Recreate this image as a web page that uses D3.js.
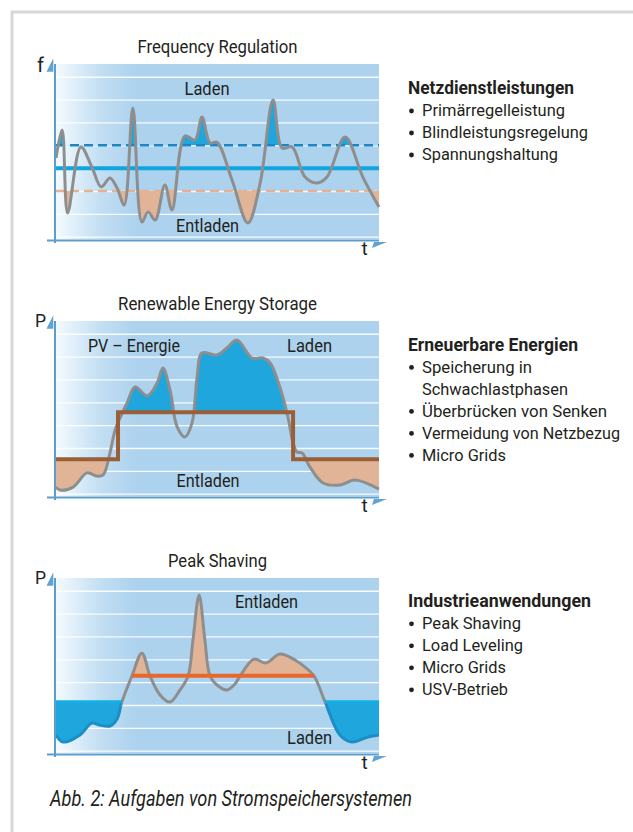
<!DOCTYPE html>
<html><head><meta charset="utf-8">
<script src="https://cdn.jsdelivr.net/npm/d3@7"></script>
<style>
body{margin:0;background:#fff;}
svg{display:block;}
text{font-family:Roboto,"Liberation Sans",sans-serif;fill:#231f20;}
</style>
</head><body><svg id="c" width="633" height="832"></svg>
<script>
// ---------------- DATA ----------------
const titles = ["Frequency Regulation", "Renewable Energy Storage", "Peak Shaving"];
const yAxisLabels = ["f", "P", "P"];
const xAxisLabel = "t";

// Panel 1: frequency regulation
const freqT = [0, 1.9, 3.6, 7.7, 11.1, 14.0, 16.7, 18.9, 21.1, 23.8, 26.6, 28.5, 30.7, 33.7, 35.9, 39.9, 43.0, 45.2, 47.7, 49.8, 54.5, 59.4, 63.2, 67.2, 70.0, 73.1, 77.1, 80.8, 83.9, 89.5, 95.0, 100];
const freqV = [3.44, 4.67, 1.04, 3.93, 3.05, 2.18, 2.57, 2.13, 1.39, 5.63, 0.64, 1.08, 0.73, 2.26, 1.17, 4.41, 4.23, 5.24, 4.10, 4.14, 2.48, 0.60, 2.34, 5.98, 3.88, 3.93, 2.61, 2.35, 2.61, 4.36, 2.61, 1.30];
const freqUpper = 4, freqCenter = 3, freqLower = 2;
const freqLabels = ["Laden", "Entladen"];

// Panel 2: renewable energy storage
const resT = [0, 1.2, 5.3, 9.6, 12.7, 14.6, 16.7, 18.3, 19.8, 22.0, 24.5, 28.2, 31.3, 33.1, 35.3, 37.5, 39.9, 42.1, 43.7, 45.2, 49.8, 52.9, 56.0, 60.7, 64.1, 66.3, 69.3, 71.8, 73.4, 74.6, 76.2, 78.6, 82.7, 87.9, 92.6, 100];
const resV = [0.29, 0.16, 0.29, 0.91, 0.77, 0.82, 1.78, 2.79, 3.31, 3.97, 4.67, 4.28, 4.84, 5.50, 4.54, 2.92, 2.48, 3.09, 5.11, 6.16, 6.07, 6.38, 6.73, 5.94, 5.94, 5.72, 4.67, 3.36, 2.22, 1.82, 1.78, 1.17, 0.47, 0.38, 0.60, 0.20];
const resStepT = [0, 19.2, 19.2, 73.4, 73.4, 100];
const resStepV = [1.51, 1.51, 3.56, 3.56, 1.51, 1.51];
const resLabels = ["PV – Energie", "Laden", "Entladen"];

// Panel 3: peak shaving
const peakT = [0, 2.2, 7.4, 11.1, 13.6, 16.7, 18.9, 20.4, 23.5, 26.6, 29.1, 32.2, 35.3, 38.4, 40.9, 42.4, 44.3, 46.1, 47.7, 50.2, 52.9, 55.4, 57.0, 61.3, 65.0, 69.3, 74.0, 77.1, 79.9, 83.3, 87.9, 91.6, 96.6, 100];
const peakV = [0.69, 0.38, 0.69, 1.21, 1.12, 1.08, 1.39, 2.13, 3.27, 4.27, 3.27, 2.44, 2.13, 2.66, 3.27, 4.84, 6.82, 4.84, 3.27, 2.83, 2.66, 2.92, 3.27, 4.01, 3.84, 4.23, 3.97, 3.66, 3.27, 2.13, 0.69, 0.38, 0.60, 0.69];
const peakLimit = 3.28, peakLimitT = [23.5, 79.9];
const chargeLevel = 2.14, chargeT = [20.4, 83.3];
const peakLabels = ["Entladen", "Laden"];

// Side texts
const headings = ["Netzdienstleistungen", "Erneuerbare Energien", "Industrieanwendungen"];
const items1 = ["Primärregelleistung", "Blindleistungsregelung", "Spannungshaltung"];
const items2 = [["Speicherung in", "Schwachlastphasen"], "Überbrücken von Senken", "Vermeidung von Netzbezug", "Micro Grids"];
const items3 = ["Peak Shaving", "Load Leveling", "Micro Grids", "USV-Betrieb"];
const caption = "Abb. 2: Aufgaben von Stromspeichersystemen";

// ---------------- DRAW ----------------
const svg = d3.select("#c");
const defs = svg.append("defs");
const grad = defs.append("linearGradient").attr("id", "bg").attr("x1", 0).attr("x2", 1).attr("y1", 0).attr("y2", 0);
[[0, "#f4fafe"], [0.075, "#d8ebf8"], [0.14, "#c2def3"], [0.25, "#acd2ee"], [1, "#acd2ee"]]
  .forEach(([o, c]) => grad.append("stop").attr("offset", o).attr("stop-color", c));

svg.append("path").attr("d", "M12,832V12H633").attr("fill", "none").attr("stroke", "#d7d7d7").attr("stroke-width", 3);

function fit(sel, w) {
  const n = sel.node().getComputedTextLength();
  if (n > 0 && Math.abs(n - w) / w < 0.25) sel.attr("textLength", w).attr("lengthAdjust", "spacingAndGlyphs");
  return sel;
}

const X0 = 56, X1 = 379;
const x = d3.scaleLinear().domain([0, 100]).range([X0, X1]);
const CURVE = d3.curveCatmullRom.alpha(0.5);
let clipId = 0;
function clipRect(g, x0, y0, x1, y1) {
  const id = "cl" + (clipId++);
  const cp = defs.append("clipPath").attr("id", id);
  [].concat(x0).forEach((xa, k) => {
    cp.append("rect").attr("x", xa).attr("y", y0).attr("width", [].concat(x1)[k] - xa).attr("height", y1 - y0);
  });
  return "url(#" + id + ")";
}

function frame(i, titleW) {
  const top = 64 + 257 * i;
  const y = d3.scaleLinear().domain([0, 7.5]).range([top + 172.7, top + 1.35]);
  const g = svg.append("g");
  g.append("rect").attr("x", X0).attr("y", top).attr("width", X1 - X0).attr("height", 175).attr("fill", "url(#bg)");
  const grid = g.append("g").attr("transform", `translate(${X0},0)`)
    .call(d3.axisLeft(y).tickValues(d3.range(0, 8)).tickSize(-(X1 - X0)).tickFormat(""));
  grid.select(".domain").remove();
  grid.selectAll("line").attr("stroke", "#ffffff").attr("stroke-width", 1.3).attr("stroke-opacity", 0.9);
  // axes
  const ax = svg.append("g").attr("class", "axes");
  ax.append("line").attr("x1", 47).attr("x2", X1).attr("y1", top + 176.5).attr("y2", top + 176.5).attr("stroke", "#5b9dcc").attr("stroke-width", 2);
  ax.append("line").attr("x1", 55).attr("x2", 55).attr("y1", top).attr("y2", top + 179).attr("stroke", "#5b9dcc").attr("stroke-width", 2);
  ax.append("path").attr("d", `M46.5,${top + 7.7}L53.3,${top + 7.7}L53.3,${top - 5.7}Z`).attr("fill", "#5ea3d3");
  ax.append("path").attr("d", `M372,${top + 184}L374,${top + 178}L387,${top + 178}Z`).attr("fill", "#5ea3d3");
  ax.append("text").attr("x", 40.5).attr("y", top + (i === 0 ? 8 : 6)).attr("text-anchor", "middle")
    .attr("font-size", i === 0 ? 20 : 17.5).text(yAxisLabels[i]);
  ax.append("text").attr("x", 364.5).attr("y", top + 191).attr("text-anchor", "middle").attr("font-size", 19).text(xAxisLabel);
  fit(svg.append("text").attr("x", 217.5).attr("y", top - 11).attr("text-anchor", "middle").attr("font-size", 18).text(titles[i]), titleW);
  return { g, y, top };
}

function plotText(g, s, cx, by, w) {
  fit(g.append("text").attr("x", cx).attr("y", by).attr("text-anchor", "middle").attr("font-size", 19).text(s), w);
}

// ---- Panel 1
{
  const { g, y, top } = frame(0, 160);
  const pts = freqT.map((t, k) => [t, freqV[k]]);
  const line = d3.line().x(d => x(d[0])).y(d => y(d[1])).curve(CURVE);
  const areaTo = lv => d3.area().x(d => x(d[0])).y0(y(lv)).y1(d => y(d[1])).curve(CURVE);
  g.append("path").attr("d", areaTo(freqUpper)(pts)).attr("fill", "#1fa6dc")
    .attr("clip-path", clipRect(g, X0, top, X1, y(freqUpper)));
  g.append("path").attr("d", areaTo(freqLower)(pts)).attr("fill", "#e2b497")
    .attr("clip-path", clipRect(g, X0, y(freqLower), X1, top + 175));
  g.append("line").attr("x1", X0).attr("x2", X1).attr("y1", y(freqCenter)).attr("y2", y(freqCenter)).attr("stroke", "#10a5e0").attr("stroke-width", 4);
  g.append("line").attr("x1", X0).attr("x2", X1).attr("y1", y(freqUpper)).attr("y2", y(freqUpper)).attr("stroke", "#1b86c3").attr("stroke-width", 2.5).attr("stroke-dasharray", "9,5");
  g.append("line").attr("x1", X0).attr("x2", X1).attr("y1", y(freqLower)).attr("y2", y(freqLower)).attr("stroke", "#e6b091").attr("stroke-width", 2.5).attr("stroke-dasharray", "9,5");
  g.append("path").attr("d", line(pts)).attr("fill", "none").attr("stroke", "#8e8e8e").attr("stroke-width", 3).attr("stroke-linejoin", "round");
  plotText(g, freqLabels[0], 207, top + 31, 45);
  plotText(g, freqLabels[1], 207.5, top + 168, 63);
}

// ---- Panel 2
{
  const { g, y, top } = frame(1, 199);
  const pts = resT.map((t, k) => [t, resV[k]]);
  const line = d3.line().x(d => x(d[0])).y(d => y(d[1])).curve(CURVE);
  const areaTo = lv => d3.area().x(d => x(d[0])).y0(y(lv)).y1(d => y(d[1])).curve(CURVE);
  const hi = resStepV[2], lo = resStepV[0];
  g.append("path").attr("d", areaTo(hi)(pts)).attr("fill", "#1fa6dc")
    .attr("clip-path", clipRect(g, x(resStepT[1]), top, x(resStepT[3]), y(hi)));
  g.append("path").attr("d", areaTo(lo)(pts)).attr("fill", "#e2b497")
    .attr("clip-path", clipRect(g, [X0, x(resStepT[3])], y(lo), [x(resStepT[1]), X1], top + 175));
  g.append("path").attr("d", line(pts)).attr("fill", "none").attr("stroke", "#8e8e8e").attr("stroke-width", 3).attr("stroke-linejoin", "round");
  const step = d3.line().x(d => x(d[0])).y(d => y(d[1]));
  g.append("path").attr("d", step(resStepT.map((t, k) => [t, resStepV[k]]))).attr("fill", "none").attr("stroke", "#9a5f37").attr("stroke-width", 4);
  plotText(g, resLabels[0], 134, top + 31, 92);
  plotText(g, resLabels[1], 309.5, top + 31, 45);
  plotText(g, resLabels[2], 208, top + 166, 63);
}

// ---- Panel 3
{
  const { g, y, top } = frame(2, 99);
  const pts = peakT.map((t, k) => [t, peakV[k]]);
  const line = d3.line().x(d => x(d[0])).y(d => y(d[1])).curve(CURVE);
  const areaTo = lv => d3.area().x(d => x(d[0])).y0(y(lv)).y1(d => y(d[1])).curve(CURVE);
  g.append("path").attr("d", areaTo(peakLimit)(pts)).attr("fill", "#e2b497")
    .attr("clip-path", clipRect(g, x(peakLimitT[0]), top, x(peakLimitT[1]), y(peakLimit)));
  const outer = clipRect(g, [X0, x(chargeT[1])], top, [x(chargeT[0]), X1], top + 175);
  g.append("path").attr("d", areaTo(chargeLevel)(pts)).attr("fill", "#1fa6dc")
    .attr("clip-path", clipRect(g, [X0, x(chargeT[1])], y(chargeLevel), [x(chargeT[0]), X1], top + 175));
  g.append("path").attr("d", line(pts)).attr("fill", "none").attr("stroke", "#8e8e8e").attr("stroke-width", 3)
    .attr("clip-path", clipRect(g, x(chargeT[0]), top, x(chargeT[1]), top + 175));
  g.append("path").attr("d", line(pts)).attr("fill", "none").attr("stroke", "#1b8ec6").attr("stroke-width", 3).attr("clip-path", outer);
  [[0, chargeT[0]], [chargeT[1], 100]].forEach(([a, b]) =>
    g.append("line").attr("x1", x(a)).attr("x2", x(b)).attr("y1", y(chargeLevel)).attr("y2", y(chargeLevel)).attr("stroke", "#16aee6").attr("stroke-width", 3));
  g.append("line").attr("x1", x(peakLimitT[0])).attr("x2", x(peakLimitT[1])).attr("y1", y(peakLimit)).attr("y2", y(peakLimit)).attr("stroke", "#e8672a").attr("stroke-width", 4);
  plotText(g, peakLabels[0], 266.5, top + 30, 63);
  plotText(g, peakLabels[1], 309.5, top + 166, 45);
}

// ---- Side texts
const headW = [166, 170, 183];
const itemW = { "Primärregelleistung": 143, "Blindleistungsregelung": 166, "Spannungshaltung": 136, "Speicherung in": 110, "Schwachlastphasen": 146, "Überbrücken von Senken": 185, "Vermeidung von Netzbezug": 198, "Micro Grids": 84, "Peak Shaving": 99, "Load Leveling": 101, "USV-Betrieb": 86 };
[items1, items2, items3].forEach((items, i) => {
  const base = 94.3 + 256.4 * i;
  fit(svg.append("text").attr("x", 408).attr("y", base).attr("font-size", 17.5).attr("font-weight", "bold").text(headings[i]), headW[i]);
  let row = 1;
  items.forEach(it => {
    const lines = [].concat(it);
    svg.append("circle").attr("cx", 411.5).attr("cy", base + 22 * row - 5.3).attr("r", 2.4).attr("fill", "#231f20");
    lines.forEach(s => {
      fit(svg.append("text").attr("x", 422).attr("y", base + 22 * row).attr("font-size", 17).text(s), itemW[s]);
      row++;
    });
  });
});

fit(svg.append("text").attr("x", 50).attr("y", 806).attr("font-size", 21.5).attr("font-style", "italic").text(caption), 362);
</script>
</body></html>
